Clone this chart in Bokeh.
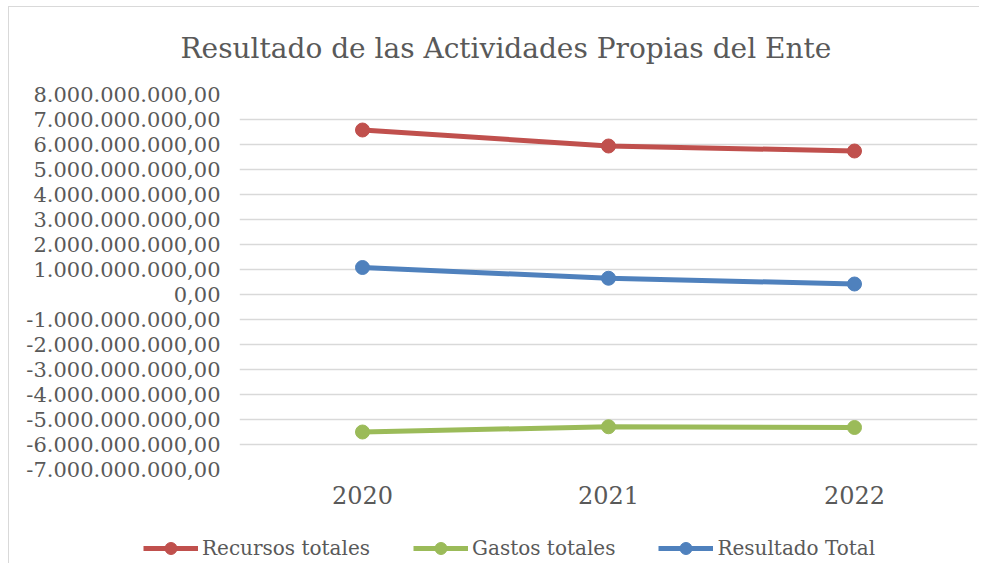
from bokeh.plotting import figure
from bokeh.layouts import column
from bokeh.models import FactorRange, Range1d, FixedTicker, Legend, LegendItem
from bokeh.embed import file_html
from bokeh.resources import INLINE

years = ["2020", "2021", "2022"]
recursos = [6.58e9, 5.94e9, 5.74e9]
gastos = [-5.50e9, -5.29e9, -5.32e9]
resultado = [1.08e9, 0.65e9, 0.42e9]
series_names = ["Recursos totales", "Gastos totales", "Resultado Total"]
colors = ["#C0504D", "#9BBB59", "#4F81BD"]
y_ticks = [float(v) * 1e9 for v in range(-7, 9)]


def fmt(v):
    s = f"{abs(v):,.2f}".replace(",", "X").replace(".", ",").replace("X", ".")
    return ("-" if v < 0 else "") + s


FONT = "DejaVu Serif"
TXT = "#595959"

p = figure(width=979, height=522, x_range=FactorRange(*years, range_padding=0),
           y_range=Range1d(-7e9, 8e9), output_backend="svg", toolbar_location=None,
           min_border_left=239, min_border_right=2, min_border_top=94, min_border_bottom=53,
           title="Resultado de las Actividades Propias del Ente")
p.outline_line_color = None
p.background_fill_color = "white"
p.border_fill_alpha = 0

p.title.text_font = FONT
p.title.text_font_size = "28px"
p.title.text_font_style = "normal"
p.title.text_color = TXT
p.title.align = "left"
p.title.offset = -59
p.title.standoff = 59

p.xgrid.grid_line_color = None
p.ygrid.grid_line_color = "#D9D9D9"
p.ygrid.grid_line_width = 1.3

p.yaxis.ticker = FixedTicker(ticks=y_ticks)
p.yaxis.major_label_overrides = {t: fmt(t) for t in y_ticks}
p.yaxis.major_label_text_font = FONT
p.yaxis.major_label_text_font_size = "21px"
p.yaxis.major_label_text_color = TXT
p.yaxis.major_label_standoff = 19
p.yaxis.axis_line_color = None
p.yaxis.major_tick_line_color = None
p.yaxis.minor_tick_line_color = None
p.yaxis.major_tick_out = 0

p.xaxis.major_label_text_font = FONT
p.xaxis.major_label_text_font_size = "24px"
p.xaxis.major_label_text_color = TXT
p.xaxis.major_label_standoff = 16
p.xaxis.axis_line_color = None
p.xaxis.major_tick_line_color = None
p.xaxis.major_tick_out = 0

series = [recursos, gastos, resultado]
for vals, c in zip(series, colors):
    p.line(years, vals, line_color=c, line_width=5)
    p.scatter(years, vals, size=14, fill_color=c, line_color=c)

# legend strip: a small figure whose frame is the whole strip; its own copies of
# the series lie outside its y range, so only the legend shows
pl = figure(width=979, height=41, x_range=FactorRange(*years, range_padding=0),
            y_range=Range1d(20e9, 21e9),
            output_backend="svg", toolbar_location=None,
            min_border_left=0, min_border_right=0, min_border_top=0, min_border_bottom=0)
pl.axis.visible = False
pl.grid.visible = False
pl.outline_line_color = None
pl.background_fill_alpha = 0
pl.border_fill_alpha = 0
if "frame_align" in pl.properties():
    pl.frame_align = False
    p.frame_align = False

items = []
for name, vals, c in zip(series_names, series, colors):
    l = pl.line(years, vals, line_color=c, line_width=5)
    s = pl.scatter(years, vals, size=14, fill_color=c, line_color=c)
    items.append(LegendItem(label=name, renderers=[l, s]))

legend = Legend(items=items, orientation="horizontal", location=(143, 0),
                glyph_width=55, glyph_height=30, label_standoff=4, spacing=43,
                padding=0, margin=0, border_line_color=None, background_fill_alpha=0,
                label_text_font=FONT, label_text_font_size="20px", label_text_color=TXT)
pl.add_layout(legend, "center")

layout = column(p, pl, spacing=0)
layout.styles = {"background": "linear-gradient(#D9D9D9,#D9D9D9) 8px 6px / 1px 100% no-repeat, "
                               "linear-gradient(#D9D9D9,#D9D9D9) 8px 6px / 100% 1px no-repeat, white"}

open("out.html", "w").write(file_html(layout, INLINE))
